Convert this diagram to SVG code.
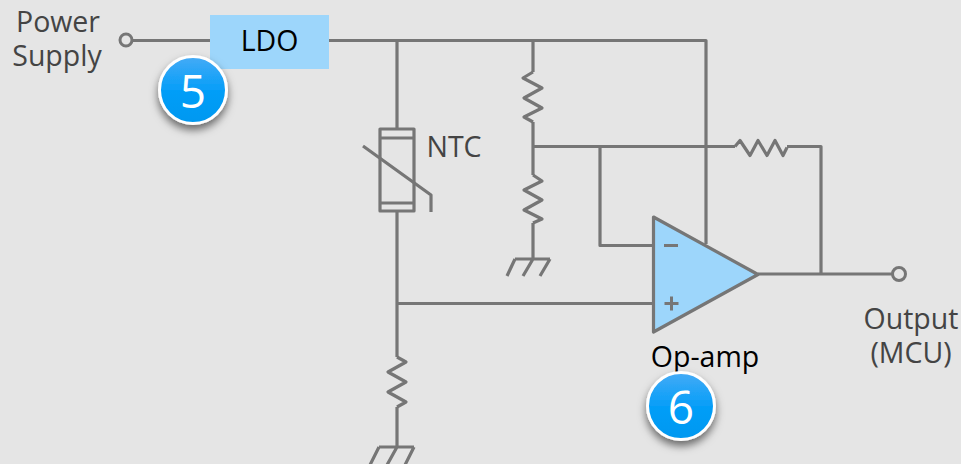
<svg xmlns="http://www.w3.org/2000/svg" width="961" height="464" viewBox="0 0 961 464">
<style>
.w{fill:none;stroke:#767676;stroke-width:3.2;stroke-linejoin:round}
.t{font-family:"Open Sans","Noto Sans",sans-serif;font-size:28.500px;text-anchor:middle}
.g{fill:#444}
.k{fill:#000}
.n{font-family:"Open Sans","Noto Sans",sans-serif;font-size:46px;fill:#fff;text-anchor:middle}
.c{fill:url(#b);stroke:#fff;stroke-width:3;filter:url(#s)}
</style>
<defs>
<linearGradient id="b" x1="0" y1="0" x2="0" y2="1"><stop offset="0" stop-color="#45abf6"/><stop offset=".5" stop-color="#069ef8"/><stop offset="1" stop-color="#0098f0"/></linearGradient>
<filter id="s" x="-30%" y="-30%" width="160%" height="170%"><feDropShadow dx="0" dy="5" stdDeviation="4" flood-color="#000" flood-opacity=".55"/></filter>
</defs>
<rect width="961" height="464" fill="#e5e5e5"/>
<g id="connectors" class="w">
<path d="M132 40.500H210M329 40.500H706V244M397 40.500V129M533 40.500V72M533 122V175M533 223V259M533 146.500H735M787 146.500H821V274M600 146.500V245.500H653M397 211V357M397 407V447M397 303.500H653M758 274H892"/>
<path d="M533 72l-10 6 19 10-18 10 18 10-18 9 9 5"/>
<path d="M533 175l9 6-18 9 18 10-18 10 18 9-9 4"/>
<path d="M735 146.500l5-6 10 15 8-15 9 15 8-15 8 15 4-8"/>
<path d="M397 357l9 5-18 10 18 10-18 10 18 10-9 5"/>
<path d="M515 259H550M515 259l-8 17M533 259l-10 17M550 259l-10 17"/>
<path d="M379 447H414M379 447l-9 18M397 447l-10 18M414 447l-9 18"/>
</g>
<g id="power-terminal"><circle cx="126" cy="40" r="6" fill="#e5e5e5" stroke="#767676" stroke-width="3"/><text class="t g" x="58" y="32">Power</text><text class="t g" x="57" y="66">Supply</text></g>
<g id="ldo"><rect x="210" y="15" width="119" height="54" fill="#9dd6fb"/><text class="t k" x="269.500" y="51">LDO</text></g>
<g id="ntc" class="w"><rect x="380" y="129" width="34" height="82"/><path d="M380 138H414M380 203H414M363 146L431 195V212"/></g>
<text id="ntc-label" class="t g" x="454" y="157">NTC</text>
<g id="op-amp"><path d="M653.500 217L758 274.500L653.500 332Z" fill="#9dd6fb" stroke="#767676" stroke-width="3.200" stroke-linejoin="round"/><path d="M664 245.500H678M664.500 303.500H678.500M671.500 296.500V310.500" fill="none" stroke="#767676" stroke-width="3"/><text class="t k" x="705" y="367">Op-amp</text></g>
<g id="output-terminal"><circle cx="899" cy="274" r="6.500" fill="#e5e5e5" stroke="#767676" stroke-width="3"/><text class="t g" x="911" y="329">Output</text><text class="t g" x="911" y="363">(MCU)</text></g>
<g id="badge-5"><circle class="c" cx="193" cy="90" r="33.500"/><text class="n" x="193" y="108">5</text></g>
<g id="badge-6"><circle class="c" cx="681" cy="406" r="33.500"/><text class="n" x="681" y="424">6</text></g>
</svg>
